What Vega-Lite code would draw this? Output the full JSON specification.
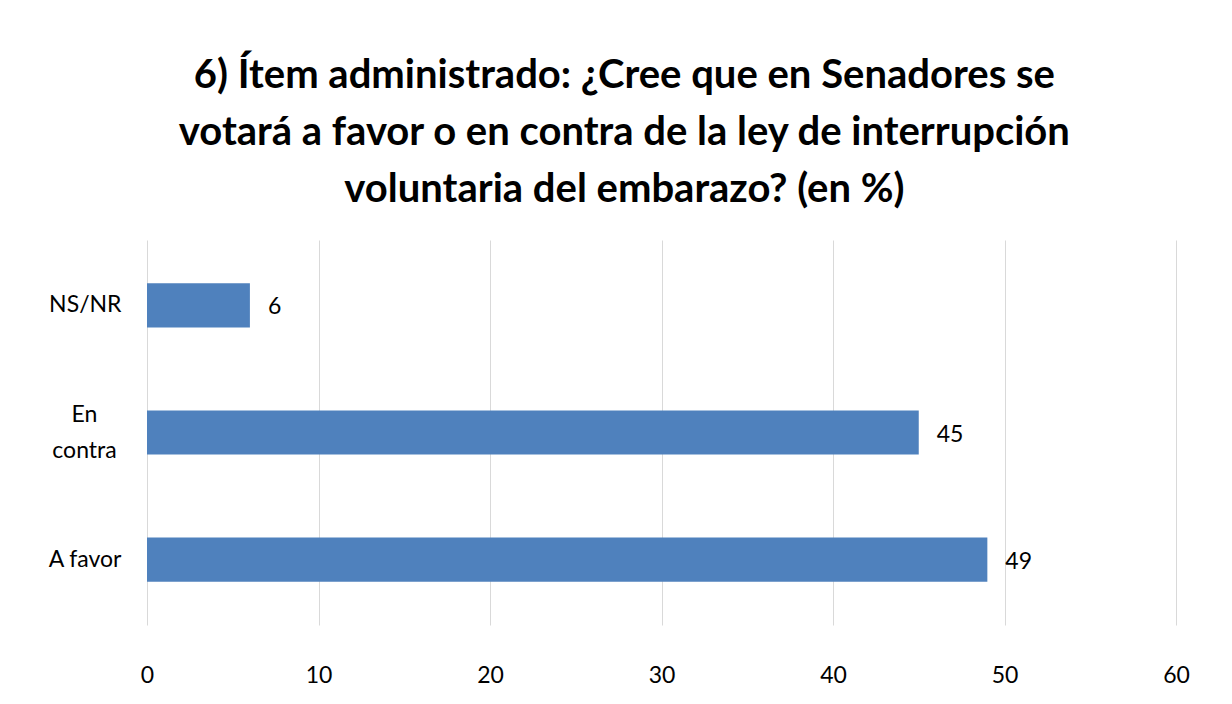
{
  "$schema": "https://vega.github.io/schema/vega-lite/v6.json",
  "autosize": {"type": "none"},
  "width": 1029,
  "height": 385,
  "padding": {"left": 147, "top": 240, "right": 56, "bottom": 79},
  "background": "white",
  "title": {
    "text": ["6) Ítem administrado: ¿Cree que en Senadores se", "votará a favor o en contra de la ley de interrupción", "voluntaria del embarazo? (en %)"],
    "font": "Lato",
    "fontSize": 40,
    "fontWeight": "bold",
    "color": "#000000",
    "lineHeight": 57,
    "anchor": "middle",
    "frame": "bounds",
    "offset": 30,
    "dx": 6
  },
  "data": {
    "values": [
      {"respuesta": "NS/NR", "porcentaje": 6},
      {"respuesta": "En contra", "porcentaje": 45},
      {"respuesta": "A favor", "porcentaje": 49}
    ]
  },
  "config": {
    "view": {"stroke": null},
    "font": "Lato"
  },
  "encoding": {
    "y": {
      "field": "respuesta",
      "type": "nominal",
      "sort": ["NS/NR", "En contra", "A favor"],
      "scale": {"paddingInner": 0.653, "paddingOuter": 0.34},
      "axis": {
        "title": null,
        "ticks": false,
        "domain": false,
        "labelFont": "Lato",
        "labelFontSize": 23,
        "labelColor": "#000000",
        "labelPadding": {"condition": {"test": "datum.value == 'En contra'", "value": 63}, "value": 26},
        "labelAlign": {"condition": {"test": "datum.value == 'En contra'", "value": "center"}, "value": "right"},
        "labelOffset": {"condition": {"test": "datum.value == 'En contra'", "value": -18}, "value": 0},
        "labelLineHeight": 36,
        "labelLimit": 300,
        "labelExpr": "datum.value == 'En contra' ? ['En', 'contra'] : datum.value"
      }
    },
    "x": {
      "field": "porcentaje",
      "type": "quantitative",
      "scale": {"domain": [0, 60], "nice": false},
      "axis": {
        "title": null,
        "values": [0, 10, 20, 30, 40, 50, 60],
        "ticks": false,
        "domain": false,
        "grid": true,
        "gridColor": "#D9D9D9",
        "gridWidth": 1,
        "labelFlush": false,
        "labelFont": "Lato",
        "labelFontSize": 23,
        "labelColor": "#000000",
        "labelPadding": 39
      }
    }
  },
  "layer": [
    {"mark": {"type": "bar", "color": "#4F81BD"}},
    {
      "mark": {"type": "text", "align": "left", "baseline": "middle", "dx": 18, "dy": 2, "fontSize": 23, "font": "Lato", "color": "#000000"},
      "encoding": {"text": {"field": "porcentaje", "type": "quantitative"}}
    }
  ]
}
